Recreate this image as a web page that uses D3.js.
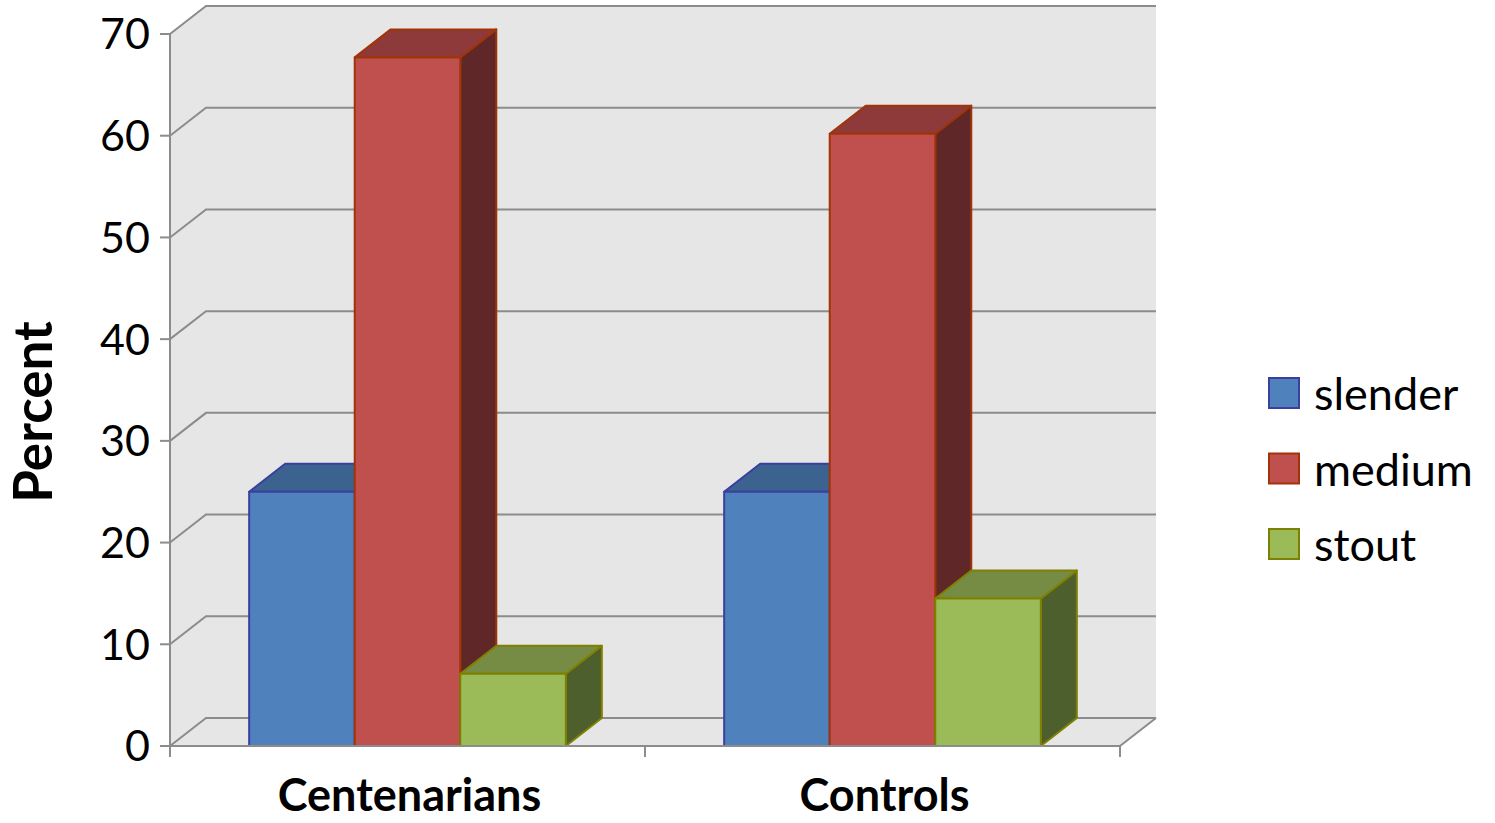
<!DOCTYPE html>
<html>
<head>
<meta charset="utf-8">
<script src="https://cdn.jsdelivr.net/npm/d3@7"></script>
<style>
  html, body { margin: 0; padding: 0; background: #ffffff; }
  svg { display: block; font-family: Lato, "Open Sans", sans-serif; }
</style>
</head>
<body>
<svg id="chart" width="1495" height="823"></svg>
<script>
// ---- data ----
const categories = ["Centenarians", "Controls"];
const seriesNames = ["slender", "medium", "stout"];
const slender = [25.0, 25.0];
const medium = [67.7, 60.2];
const stout = [7.1, 14.5];
const yTicks = [0, 10, 20, 30, 40, 50, 60, 70];
const yTitle = "Percent";

const seriesValues = { slender, medium, stout };
const colors = {
  slender: { front: "#4F81BD", top: "#3C628F", side: "#2E4A6D", stroke: "#3A3FA0" },
  medium:  { front: "#C0504D", top: "#8F3A3A", side: "#5F2727", stroke: "#A03408" },
  stout:   { front: "#9BBB59", top: "#768C45", side: "#4E5F2E", stroke: "#808000" }
};

const svg = d3.select("#chart");
const left = 170, right = 1120, bottom = 746, topY = 34;
const dx = 36, dy = -28;
const gridColor = "#8C8C8C";
const wallColor = "#E6E6E6";

const y = d3.scaleLinear().domain([0, 70]).range([bottom, topY]);
const x0 = d3.scaleBand().domain(categories).range([left, right]).padding(0);
const gap = x0.bandwidth() / 6;
const x1 = d3.scaleBand().domain(seriesNames).range([gap, x0.bandwidth() - gap]).padding(0);

// ---- walls ----
const g = svg.append("g");
g.append("rect")
  .attr("x", left + dx).attr("y", y(70) + dy)
  .attr("width", right - left).attr("height", y(0) - y(70))
  .attr("fill", wallColor);
g.append("path")
  .attr("d", `M${left},${y(70)} L${left + dx},${y(70) + dy} L${left + dx},${y(0) + dy} L${left},${y(0)} Z`)
  .attr("fill", wallColor);
g.append("path")
  .attr("d", `M${left},${y(0)} L${left + dx},${y(0) + dy} L${right + dx},${y(0) + dy} L${right},${y(0)} Z`)
  .attr("fill", wallColor);

const grid = g.append("g").attr("stroke", gridColor).attr("stroke-width", 2).attr("fill", "none");
yTicks.forEach(t => {
  grid.append("path")
    .attr("d", `M${left},${y(t)} L${left + dx},${y(t) + dy} L${right + dx},${y(t) + dy}`);
});
grid.append("path").attr("d", `M${right},${y(0)} L${right + dx},${y(0) + dy}`);

// ---- bars ----
const bars = svg.append("g");
categories.forEach((cat, ci) => {
  seriesNames.forEach(s => {
    const v = seriesValues[s][ci];
    const xl = x0(cat) + x1(s);
    const xr = xl + x1.bandwidth();
    const yt = y(v), yb = y(0);
    const c = colors[s];
    const bg = bars.append("g")
      .attr("stroke", c.stroke).attr("stroke-width", 2).attr("stroke-linejoin", "round");
    bg.append("path")
      .attr("d", `M${xr},${yt} L${xr + dx},${yt + dy} L${xr + dx},${yb + dy} L${xr},${yb} Z`)
      .attr("fill", c.side);
    bg.append("path")
      .attr("d", `M${xl},${yt} L${xl + dx},${yt + dy} L${xr + dx},${yt + dy} L${xr},${yt} Z`)
      .attr("fill", c.top);
    bg.append("rect")
      .attr("x", xl).attr("y", yt)
      .attr("width", xr - xl).attr("height", yb - yt)
      .attr("fill", c.front);
  });
});

// ---- axes ----
const axisG = svg.append("g").attr("stroke", gridColor).attr("stroke-width", 2);
axisG.append("line").attr("x1", left).attr("x2", left).attr("y1", y(70)).attr("y2", y(0) + 11);
yTicks.forEach(t => {
  axisG.append("line").attr("x1", left - 10).attr("x2", left).attr("y1", y(t)).attr("y2", y(t));
});
axisG.append("line").attr("x1", left).attr("x2", right).attr("y1", y(0)).attr("y2", y(0));
const xBounds = categories.map(c => x0(c)).concat([x0(categories[categories.length - 1]) + x0.bandwidth()]);
xBounds.forEach(xb => {
  axisG.append("line").attr("x1", xb).attr("x2", xb).attr("y1", y(0)).attr("y2", y(0) + 11);
});

svg.append("g").selectAll("text").data(yTicks).join("text")
  .attr("x", left - 20).attr("y", d => y(d)).attr("dy", "0.36em")
  .attr("text-anchor", "end").attr("font-size", 43).attr("fill", "#000")
  .text(d => d);

svg.append("g").selectAll("text").data(categories).join("text")
  .attr("x", d => x0(d) + x0.bandwidth() / 2 + 2).attr("y", 811)
  .attr("text-anchor", "middle").attr("font-size", 45).attr("font-weight", "bold").attr("fill", "#000")
  .text(d => d);

svg.append("text")
  .attr("transform", "translate(52,412) rotate(-90)")
  .attr("text-anchor", "middle").attr("font-size", 53).attr("font-weight", "bold").attr("fill", "#000")
  .text(yTitle);

// ---- legend ----
const legend = svg.append("g").attr("transform", "translate(1268,377)");
seriesNames.forEach((s, i) => {
  const row = legend.append("g").attr("transform", `translate(0,${i * 75.5})`);
  row.append("rect").attr("x", 1).attr("y", 1).attr("width", 30).attr("height", 30)
    .attr("fill", colors[s].front).attr("stroke", colors[s].stroke).attr("stroke-width", 2);
  row.append("text").attr("x", 46).attr("y", 33)
    .attr("font-size", 45).attr("fill", "#000").text(s);
});
</script>
</body>
</html>
